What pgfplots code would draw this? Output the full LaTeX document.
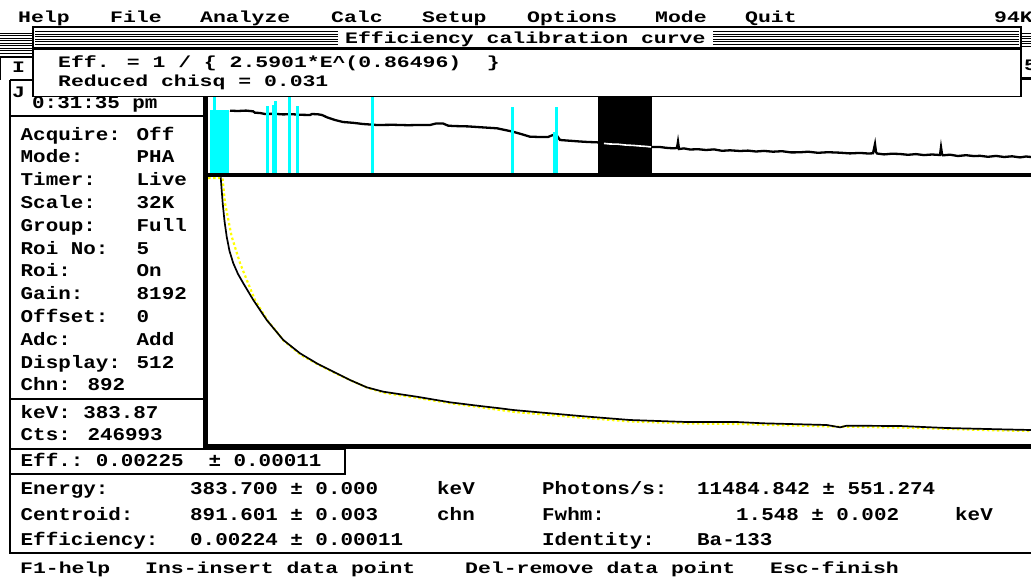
\documentclass[border=0pt]{standalone}
\usepackage{pgfplots}
\pgfplotsset{compat=1.18}
\usepackage{pgfplotstable}
\usepackage{fontspec}
\newfontfamily\dossmall[FakeStretch=1.34]{Liberation Mono}
\newfontfamily\dosbig[FakeStretch=1.16]{Liberation Mono}
\definecolor{scrcyan}{RGB}{0,255,255}
\definecolor{scryellow}{RGB}{255,255,0}

% spectrum strip: x = px right of the left border, y = px above strip bottom
\pgfplotstableread{
x y
22 63.3
30 63.0
38 63.4
45 62.7
47 61.3
52 61.0
57 60.0
66 60.2
75 59.6
84 59.8
93 59.2
102 59.0
104 60.0
110 59.7
114 59.0
119 56.7
127 54.0
135 52.0
145 51.2
155 50.0
169 49.0
185 49.2
200 48.8
215 49.1
222 49.0
228 50.5
235 50.5
240 48.4
245 48.0
260 47.6
275 46.6
289 45.7
297 44.0
305 42.3
313 40.0
322 37.3
332 37.0
340 37.0
345 39.0
349 38.2
352 34.0
360 33.4
372 32.5
380 32.0
389 31.7
396 30.6
402 30.0
410 29.8
417 29.0
425 28.6
432 28.0
438 27.6
443 27.0
452 27.0
458 26.2
465 25.7
469 26.0
470 32.3
471 25.0
476 25.6
482 24.5
490 24.8
498 24.0
506 24.6
514 23.2
522 23.7
532 23.0
540 23.4
548 22.5
556 23.1
565 22.3
574 22.8
583 21.6
592 21.7
600 22.3
610 21.2
620 21.8
632 21.3
642 20.6
652 21.1
660 20.5
665 20.7
667 30.0
668 22.0
669 20.5
676 19.6
684 20.3
692 20.0
700 19.2
708 19.9
716 18.9
724 19.5
732 19.0
733 26.7
734 20.0
735 18.7
742 19.3
750 18.0
758 18.8
766 17.9
772 18.2
780 17.2
788 18.1
796 17.0
804 17.7
812 16.6
818 17.5
823 17.0
}\spectrum

% ROI markers in the strip
\pgfplotstableread{
x y
6.3 77.3
59.5 68
65.5 69
67.5 73
81.3 76.7
89.5 68
164.7 77.3
304.5 66.7
348 67.3
}\rois

% efficiency curve: fitted (black) and data trace (yellow)
\pgfplotstableread{
x y
12.7 265.7
14.7 239.7
16.5 222.0
18.7 206.3
21.5 192.0
25.3 179.7
30.0 169.0
35.3 159.7
45.3 143.0
58.7 123.0
75.3 103.0
92.0 89.7
108.7 79.7
125.3 71.3
142.0 63.0
158.7 55.7
175.3 51.3
208.7 46.3
242.0 40.7
272.0 37.0
292.0 34.7
305.3 33.0
372.0 27.0
422.0 23.0
478.7 21.0
528.7 21.0
555.3 19.7
618.7 18.0
632.0 15.7
638.7 17.3
692.0 17.0
738.7 15.0
792.0 13.7
823.0 13.0
}\fitcurve

\pgfplotstableread{
x y
0 265
14.5 265
17.0 240
23.7 206.3
32.0 180.0
40.0 160.0
47.0 143.0
59.5 122.5
76.0 102.0
93.0 88.0
110.0 78.5
127.0 70.0
144.0 62.0
160.0 55.0
177.0 50.0
210.0 45.0
244.0 39.5
274.0 35.5
307.0 31.0
372.0 25.5
422.0 21.5
482.0 19.5
532.0 19.0
622.0 16.5
692.0 15.5
792.0 12.5
823.0 12.0
}\datacurve

\begin{document}
\begin{tikzpicture}
\useasboundingbox (0,0) rectangle (1031pt,-576pt);
\fill[white] (0,0) rectangle (1031pt,-576pt);
\clip (0,0) rectangle (1031pt,-576pt);

% top strip: spectrum overview
\begin{axis}[
  at={(208pt,-174pt)}, anchor=south west,
  width=823pt, height=77pt, scale only axis,
  xmin=0, xmax=823, ymin=0, ymax=77,
  hide axis, clip=true]
  \addplot[fill=black, draw=none] coordinates {(390,0) (390,77) (443.7,77) (443.7,0)} -- cycle;
  \addplot[black, line width=2.3pt, mark=none] table {\spectrum};
  \addplot[white, line width=1.6pt, mark=none, restrict x to domain=390:443.7] table {\spectrum};
  \addplot[fill=scrcyan, draw=none] coordinates {(2,0) (2,63.8) (21.3,63.8) (21.3,0)} -- cycle;
  \addplot[fill=scrcyan, draw=none] coordinates {(345,0) (345,42) (350,42) (350,0)} -- cycle;
  \addplot[scrcyan, ycomb, line width=3pt, mark=none] table {\rois};
\end{axis}

% main plot: efficiency calibration curve
\begin{axis}[
  at={(208pt,-443pt)}, anchor=south west,
  width=823pt, height=266pt, scale only axis,
  xmin=0, xmax=823, ymin=0, ymax=266,
  hide axis, clip=true]
  \addplot[scryellow, line width=2.2pt, dash pattern=on 2.5pt off 2.5pt, mark=none] table {\datacurve};
  \addplot[black, line width=1.7pt, mark=none] table {\fitcurve};
\end{axis}

\begin{scope}[x=1pt, y=-1pt,
  ts/.style={anchor=base west, inner sep=0pt, font=\dossmall\fontsize{16}{18}\selectfont\bfseries},
  tb/.style={anchor=base west, inner sep=0pt, font=\dosbig\fontsize{18}{20}\selectfont\bfseries}]

% remnants of the window behind the dialog
\foreach \yy in {33,35.5,38,40.5,43,45.5,48,50.5,53}
  \draw[line width=1pt] (0,\yy) -- (33,\yy);
\foreach \yy in {33.5,36,38.5,41,43.5,46}
  \draw[line width=1pt] (1021,\yy) -- (1031,\yy);
\draw[line width=2pt] (0,57) -- (33,57);
\draw[line width=1.2pt] (0.6,57) -- (0.6,80);
\draw[line width=1.5pt] (10,80) -- (33,80);
\draw[line width=3pt] (203,78) -- (1031,78);
\node[ts] at (12,72) {I};
\node[ts] at (12,97) {J};
\node[ts] at (1024,70) {5};

% left status panel
\draw[line width=1.5pt] (10,80) -- (10,449);
\draw[line width=1.5pt] (10,116) -- (203,116);
\draw[line width=1.5pt] (10,399) -- (203,399);
\node[tb] at (32,108) {0:31:35 pm};
\foreach \lab/\val [count=\k from 0] in {Acquire:/Off, Mode:/PHA, Timer:/Live, Scale:/32K,
    Group:/Full, Roi No:/5, Roi:/On, Gain:/8192, Offset:/0, Adc:/Add, Display:/512}{
  \node[tb] at (20.5,140+22.8*\k) {\lab};
  \node[tb] at (136.5,140+22.8*\k) {\val};
}
\node[tb] at (20.5,390) {Chn: 892};
\node[tb] at (20.5,418) {keV: 383.87};
\node[tb] at (20.5,440) {Cts: 246993};

% plot frame
\draw[line width=5pt] (205.5,95) -- (205.5,448.5);
\draw[line width=4pt] (203,175.3) -- (1031,175.3);
\draw[line width=4.5pt] (203,446.3) -- (1031,446.3);

% efficiency box and bottom panel
\draw[line width=1.5pt] (10,449) rectangle (345,474);
\draw[line width=1.5pt] (10,474) -- (10,553) -- (1031,553);
\node[tb] at (20.5,466) {Eff.:~0.00225~~±~0.00011};
\node[tb] at (20.5,494) {Energy:};
\node[tb] at (190,494) {383.700 ± 0.000};
\node[tb] at (437,494) {keV};
\node[tb] at (542,494) {Photons/s:};
\node[tb] at (697,494) {11484.842 ± 551.274};
\node[tb] at (20.5,520) {Centroid:};
\node[tb] at (190,520) {891.601 ± 0.003};
\node[tb] at (437,520) {chn};
\node[tb] at (542,520) {Fwhm:};
\node[tb] at (736,520) {1.548 ± 0.002};
\node[tb] at (955,520) {keV};
\node[tb] at (20.5,545) {Efficiency:};
\node[tb] at (190,545) {0.00224 ± 0.00011};
\node[tb] at (542,545) {Identity:};
\node[tb] at (697,545) {Ba-133};

% footer
\node[ts] at (20,573) {F1-help};
\node[ts] at (145,573) {Ins-insert data point};
\node[ts] at (465,573) {Del-remove data point};
\node[ts] at (770,573) {Esc-finish};

% menu bar
\foreach \item/\xx in {Help/18, File/110, Analyze/200, Calc/331, Setup/422,
    Options/527, Mode/655, Quit/745, 94K/994}
  \node[ts] at (\xx,22) {\item};

% dialog: efficiency calibration curve
\fill[white] (33,26) rectangle (1021,97);
\draw[line width=1.5pt] (33,27) rectangle (1021,96.3);
\draw[line width=2.3pt] (33,27.2) -- (1021,27.2);
\foreach \yy in {31.7,34.3,36.7,39.3,41.7,44.3}
  \draw[line width=1pt] (35,\yy) -- (1019,\yy);
\fill[white] (338,29) rectangle (713,46.8);
\draw[line width=2.5pt] (33,48.6) -- (1021,48.6);
\node[ts] at (345,43) {Efficiency calibration curve};
\node[ts] at (58,67) {Eff. = 1 / \{ 2.5901*E\textasciicircum(0.86496)~~\}};
\node[ts] at (58,86) {Reduced chisq = 0.031};
\end{scope}
\end{tikzpicture}
\end{document}
